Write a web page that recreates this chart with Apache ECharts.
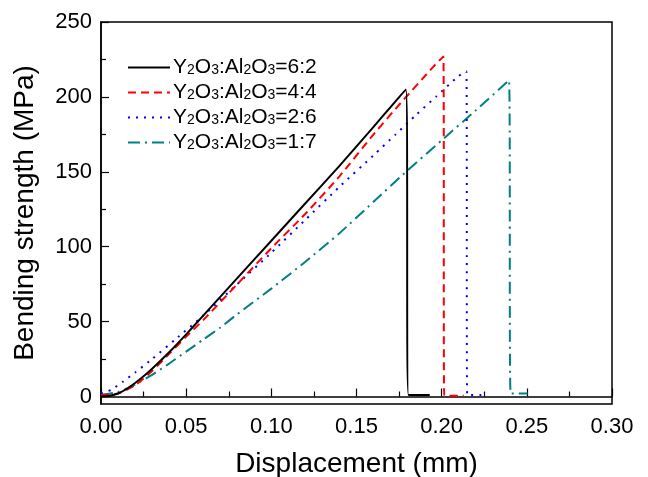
<!DOCTYPE html>
<html>
<head>
<meta charset="utf-8">
<script src="https://cdn.jsdelivr.net/npm/echarts@6/dist/echarts.min.js"></script>
<style>
  html, body { margin: 0; padding: 0; background: #fff; }
  #chart { width: 648px; height: 477px; }
</style>
</head>
<body>
<div id="chart"></div>
<script>
// series names (ratio part), subscripts done with rich text
const ratios = ['6:2', '4:4', '2:6', '1:7'];

// [displacement (mm), bending strength (MPa)]
const black62 = [
  [0, 0], [0.005, 0.5], [0.01, 2], [0.015, 5], [0.02, 9], [0.025, 13.5], [0.03, 18.5],
  [0.04, 29.5], [0.05, 41.5], [0.06, 54], [0.08, 79], [0.10, 104], [0.12, 129],
  [0.14, 154], [0.16, 180], [0.179, 205], [0.1805, 1], [0.193, 1]
];
const red44 = [
  [0, 1], [0.01, 2], [0.02, 7.5], [0.03, 17], [0.04, 28.5], [0.05, 40], [0.06, 51],
  [0.08, 75], [0.10, 99], [0.12, 122], [0.14, 147], [0.16, 175], [0.176, 196],
  [0.195, 220], [0.201, 227], [0.2015, 0.5], [0.213, 0.5]
];
const blue26 = [
  [0, 2], [0.006, 4.5], [0.013, 10], [0.02, 16], [0.03, 25], [0.0435, 38], [0.062, 56],
  [0.08, 75], [0.10, 96], [0.12, 118], [0.14, 140], [0.16, 161], [0.173, 175],
  [0.185, 188], [0.197, 200.5], [0.21, 214], [0.2145, 217], [0.215, 1], [0.225, 1]
];
const teal17 = [
  [0, 1], [0.01, 3], [0.02, 8], [0.03, 14.5], [0.04, 22], [0.05, 30], [0.06, 38],
  [0.07, 46], [0.08, 55], [0.10, 72], [0.12, 90], [0.14, 109], [0.16, 130],
  [0.18, 151], [0.20, 171], [0.22, 191], [0.2395, 211], [0.2405, 2], [0.2505, 2]
];

const yLabelTicks = [0, 50, 100, 150, 200, 250];
const yMinorTicks = [25, 75, 125, 175, 225];

const colors = ['#000000', '#ff0000', '#0000ff', '#008080'];
const dashes = ['solid', [8, 5], [2, 6], [12, 5, 2, 5]];
const allData = [black62, red44, blue26, teal17];

const FONT = '"Liberation Sans", Arial, sans-serif';

const chart = echarts.init(document.getElementById('chart'), null, { renderer: 'canvas' });

const seriesName = r => 'Y2O3:Al2O3=' + r;

const option = {
  animation: false,
  backgroundColor: '#fff',
  textStyle: { fontFamily: FONT },
  grid: {
    left: 101, right: 36, top: 22, bottom: 73,
    outerBoundsMode: 'none', containLabel: false,
    show: true, borderColor: '#000', borderWidth: 1.5
  },
  legend: {
    left: 122, top: 52, orient: 'vertical',
    itemWidth: 42, itemHeight: 14, itemGap: 4,
    itemStyle: { opacity: 0 },
    data: ratios.map(seriesName),
    formatter: name => {
      const r = name.split('=')[1];
      return '{m|Y}{s|2}{m|O}{s|3}{m|:Al}{s|2}{m|O}{s|3}{m|=' + r + '}';
    },
    textStyle: {
      fontFamily: FONT, color: '#000', padding: [0, 0, 0, -2],
      rich: {
        m: { fontSize: 21, lineHeight: 20, fontFamily: FONT, color: '#000' },
        s: { fontSize: 14, lineHeight: 20, fontFamily: FONT, color: '#000', verticalAlign: 'bottom' }
      }
    }
  },
  xAxis: {
    type: 'value', min: 0, max: 0.3, interval: 0.05,
    name: 'Displacement (mm)', nameLocation: 'middle', nameGap: 46,
    nameTextStyle: { fontSize: 28, fontFamily: FONT, color: '#000' },
    axisLine: { lineStyle: { color: '#000', width: 1.5 } },
    axisTick: { inside: true, length: 8, lineStyle: { color: '#000', width: 1.2 } },
    minorTick: { show: true, splitNumber: 2, length: 5, lineStyle: { color: '#000', width: 1.2 } },
    splitLine: { show: false },
    axisLabel: {
      fontSize: 22, color: '#000', margin: 12, fontFamily: FONT,
      formatter: v => v.toFixed(2)
    }
  },
  yAxis: [
    {
      type: 'value', min: -5, max: 250,
      name: 'Bending strength (MPa)', nameLocation: 'middle', nameGap: 62,
      nameTextStyle: { fontSize: 28, fontFamily: FONT, color: '#000' },
      axisLine: { lineStyle: { color: '#000', width: 1.5 } },
      axisTick: { inside: true, length: 8, customValues: yLabelTicks, lineStyle: { color: '#000', width: 1.2 } },
      splitLine: { show: false },
      axisLabel: { fontSize: 22, color: '#000', margin: 9, fontFamily: FONT, customValues: yLabelTicks }
    },
    {
      type: 'value', min: -5, max: 250, position: 'left',
      axisLine: { show: false },
      axisTick: { inside: true, length: 5, customValues: yMinorTicks, lineStyle: { color: '#000', width: 1.2 } },
      splitLine: { show: false },
      axisLabel: { show: false }
    }
  ],
  series: allData.map((d, i) => ({
    name: seriesName(ratios[i]),
    type: 'line',
    data: d,
    yAxisIndex: 0,
    symbol: 'none',
    smooth: 0.2,
    color: colors[i],
    lineStyle: { color: colors[i], width: 2, type: dashes[i] },
    z: 10 - i
  }))
};

chart.setOption(option);
</script>
</body>
</html>
